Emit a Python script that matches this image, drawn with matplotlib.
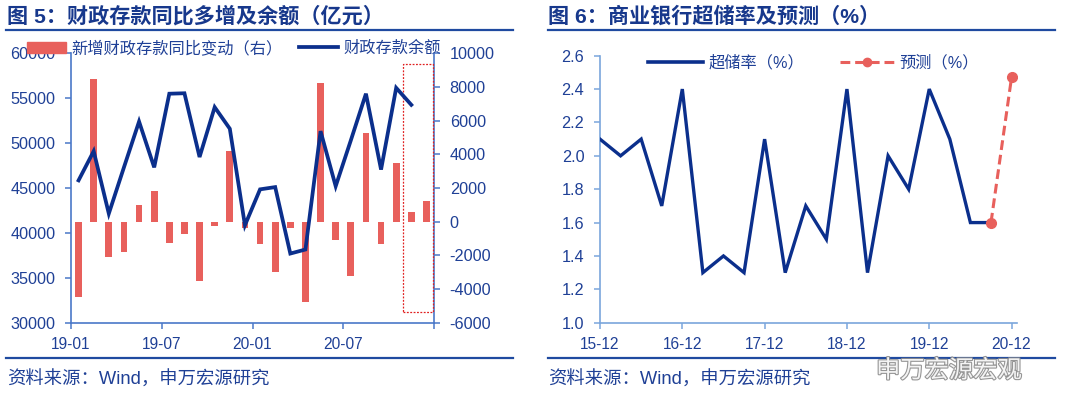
import numpy as np
import matplotlib
matplotlib.use('Agg')
import matplotlib.pyplot as plt
from matplotlib.patches import Patch, Rectangle
from matplotlib.lines import Line2D
import matplotlib.patheffects as pe

plt.rcParams['font.family'] = ['Liberation Sans', 'Noto Sans CJK SC', 'DejaVu Sans']
plt.rcParams['axes.unicode_minus'] = False

# ---------------- data: chart 5 ----------------
months = ['19-01', '19-02', '19-03', '19-04', '19-05', '19-06', '19-07', '19-08',
          '19-09', '19-10', '19-11', '19-12', '20-01', '20-02', '20-03', '20-04',
          '20-05', '20-06', '20-07', '20-08', '20-09', '20-10', '20-11', '20-12']
deposit_balance = [45850, 49100, 42150, 47300, 52400, 47300, 55500, 55550,
                   48450, 54000, 51600, 40850, 44850, 45100, 37700, 38150,
                   51330, 45200, 50300, 55500, 47050, 56150, 54260, np.nan]
deposit_change = [-4450, 8500, -2100, -1800, 1000, 1850, -1250, -750,
                  -3520, -250, 4200, -350, -1300, -3000, -400, -4800,
                  8250, -1100, -3200, 5250, -1300, 3500, 600, 1250]
month_ticks = ['19-01', '19-07', '20-01', '20-07']
highlight_months = ['20-11', '20-12']

# ---------------- data: chart 6 ----------------
quarters = ['15-12', '16-03', '16-06', '16-09', '16-12', '17-03', '17-06', '17-09',
            '17-12', '18-03', '18-06', '18-09', '18-12', '19-03', '19-06', '19-09',
            '19-12', '20-03', '20-06', '20-09']
excess_reserve = [2.1, 2.0, 2.1, 1.7, 2.4, 1.3, 1.4, 1.3,
                  2.1, 1.3, 1.7, 1.5, 2.4, 1.3, 2.0, 1.8,
                  2.4, 2.1, 1.6, 1.6]
forecast_quarters = ['20-09', '20-12']
forecast_values = [1.6, 2.47]
quarter_ticks = ['15-12', '16-12', '17-12', '18-12', '19-12', '20-12']

# ---------------- styles ----------------
navy = '#0b2f8c'
red = '#e8605c'
txt = '#1f4096'
title_c = '#17388c'
spine_l = '#4a78c8'
spine_r = '#7aa6dc'
W, H = 1080, 399


def q_index(s):
    yy, mm = s.split('-')
    return (int(yy) - 15) * 4 + (int(mm) - 12) / 3


fig = plt.figure(figsize=(W / 100, H / 100), dpi=100)

# ---------------- chart 5 ----------------
ax1 = fig.add_axes([71 / W, 1 - 322.7 / H, (434 - 71) / W, (322.7 - 53.3) / H])
ax2 = ax1.twinx()
x = np.arange(len(months))
ax2.bar(x, deposit_change, width=0.45, color=red, zorder=2)
ax1.plot(x, deposit_balance, color=navy, lw=2.7, solid_joinstyle='miter', zorder=3)
ax1.set_zorder(ax2.get_zorder() + 1)
ax1.patch.set_visible(False)

ax1.set_xlim(-0.5, len(months) - 0.5)
ax1.set_ylim(30000, 60000)
ax1.set_yticks(np.arange(30000, 60001, 5000))
ax2.set_ylim(-6000, 10000)
ax2.set_yticks(np.arange(-6000, 10001, 2000))
ax1.set_xticks([months.index(m) - 0.5 for m in month_ticks] + [len(months) - 0.5])
ax1.set_xticklabels(month_ticks + [''])

for a in (ax1, ax2):
    for s in a.spines.values():
        s.set_visible(False)
ax1.spines['left'].set_visible(True)
ax1.spines['bottom'].set_visible(True)
ax2.spines['right'].set_visible(True)
for s in (ax1.spines['left'], ax1.spines['bottom'], ax2.spines['right']):
    s.set_color(spine_l)
    s.set_linewidth(1.2)
for a in (ax1, ax2):
    a.tick_params(direction='out', length=4.3, width=1.1, color=spine_l,
                  labelcolor=txt, labelsize=11.7, pad=7)
ax1.tick_params(axis='x', labelsize=11.2, pad=6)

i0 = months.index(highlight_months[0])
i1 = months.index(highlight_months[-1])
rect = Rectangle((i0 - 0.56, -5350), (i1 + 0.43) - (i0 - 0.56), 9370 + 5350,
                 fill=False, edgecolor='#e02020', lw=0.9, linestyle=(0, (1.5, 1.2)),
                 clip_on=False, zorder=5)
ax2.add_patch(rect)

fig.legend(handles=[Patch(color=red), Line2D([], [], color=navy, lw=2.7)],
           labels=['新增财政存款同比变动（右）', '财政存款余额'],
           loc='center left', bbox_to_anchor=(27 / W, 1 - 48 / H), ncol=2,
           frameon=False, fontsize=11.7, handlelength=2.4, handletextpad=0.35,
           columnspacing=1.0, borderpad=0, borderaxespad=0, labelcolor=txt)

# ---------------- chart 6 ----------------
ax3 = fig.add_axes([600 / W, 1 - 322.7 / H, (1016.7 - 600) / W, (322.7 - 55.7) / H])
xq = [q_index(q) for q in quarters]
ax3.plot(xq, excess_reserve, color=navy, lw=2.4, solid_joinstyle='miter', zorder=3)
xf = [q_index(q) for q in forecast_quarters]
ax3.plot(xf, forecast_values, color=red, lw=2.2, dashes=(3.2, 1.6),
         marker='o', ms=7, zorder=4)
ax3.set_xlim(0, 20.25)
ax3.set_ylim(1.0, 2.6)
ax3.set_yticks(np.arange(1.0, 2.61, 0.2))
ax3.set_yticklabels([f'{v:.1f}' for v in np.arange(1.0, 2.61, 0.2)])
ax3.set_xticks([q_index(q) for q in quarter_ticks])
ax3.set_xticklabels(quarter_ticks)
for k in ('top', 'right'):
    ax3.spines[k].set_visible(False)
for k in ('left', 'bottom'):
    ax3.spines[k].set_color(spine_r)
    ax3.spines[k].set_linewidth(1.2)
ax3.tick_params(direction='out', length=4.3, width=1.1, color=spine_r,
                labelcolor=txt, labelsize=11.7, pad=7)
ax3.tick_params(axis='x', labelsize=11.2, pad=6)

fig.legend(handles=[Line2D([], [], color=navy, lw=2.6),
                    Line2D([], [], color=red, lw=2.2, dashes=(3.2, 1.6),
                           marker='o', ms=6)],
           labels=['超储率（%）', '预测（%）'],
           loc='center left', bbox_to_anchor=(648 / W, 1 - 63 / H), ncol=2,
           frameon=False, fontsize=11.7, handlelength=3.4, handletextpad=0.3,
           columnspacing=2.2, borderpad=0, borderaxespad=0, labelcolor=txt)

# ---------------- titles, rules, sources ----------------
fig.text(7 / W, 1 - 16 / H, '图 5：财政存款同比多增及余额（亿元）', fontsize=15.2,
         fontweight='bold', color=title_c, va='center', ha='left')
fig.text(548 / W, 1 - 16 / H, '图 6：商业银行超储率及预测（%）', fontsize=15.2,
         fontweight='bold', color=title_c, va='center', ha='left')
for (xa, xb) in ((6, 513), (548, 1055)):
    for yy in (29.5, 358):
        fig.add_artist(Line2D([xa / W, xb / W], [1 - yy / H, 1 - yy / H],
                              color='#1f4aa0', lw=1.6, transform=fig.transFigure))
fig.text(7 / W, 1 - 380 / H, '资料来源：Wind，申万宏源研究', fontsize=13.2,
         color=txt, va='center', ha='left')
fig.text(548 / W, 1 - 380 / H, '资料来源：Wind，申万宏源研究', fontsize=13.2,
         color=txt, va='center', ha='left')

# watermark
fig.text(876 / W, 1 - 371 / H, '申万宏源宏观', fontsize=17.5, color='white',
         va='center', ha='left', alpha=0.9,
         path_effects=[pe.withStroke(linewidth=1.6, foreground='#8a8a8a')])

fig.savefig('out.png', dpi=100)
